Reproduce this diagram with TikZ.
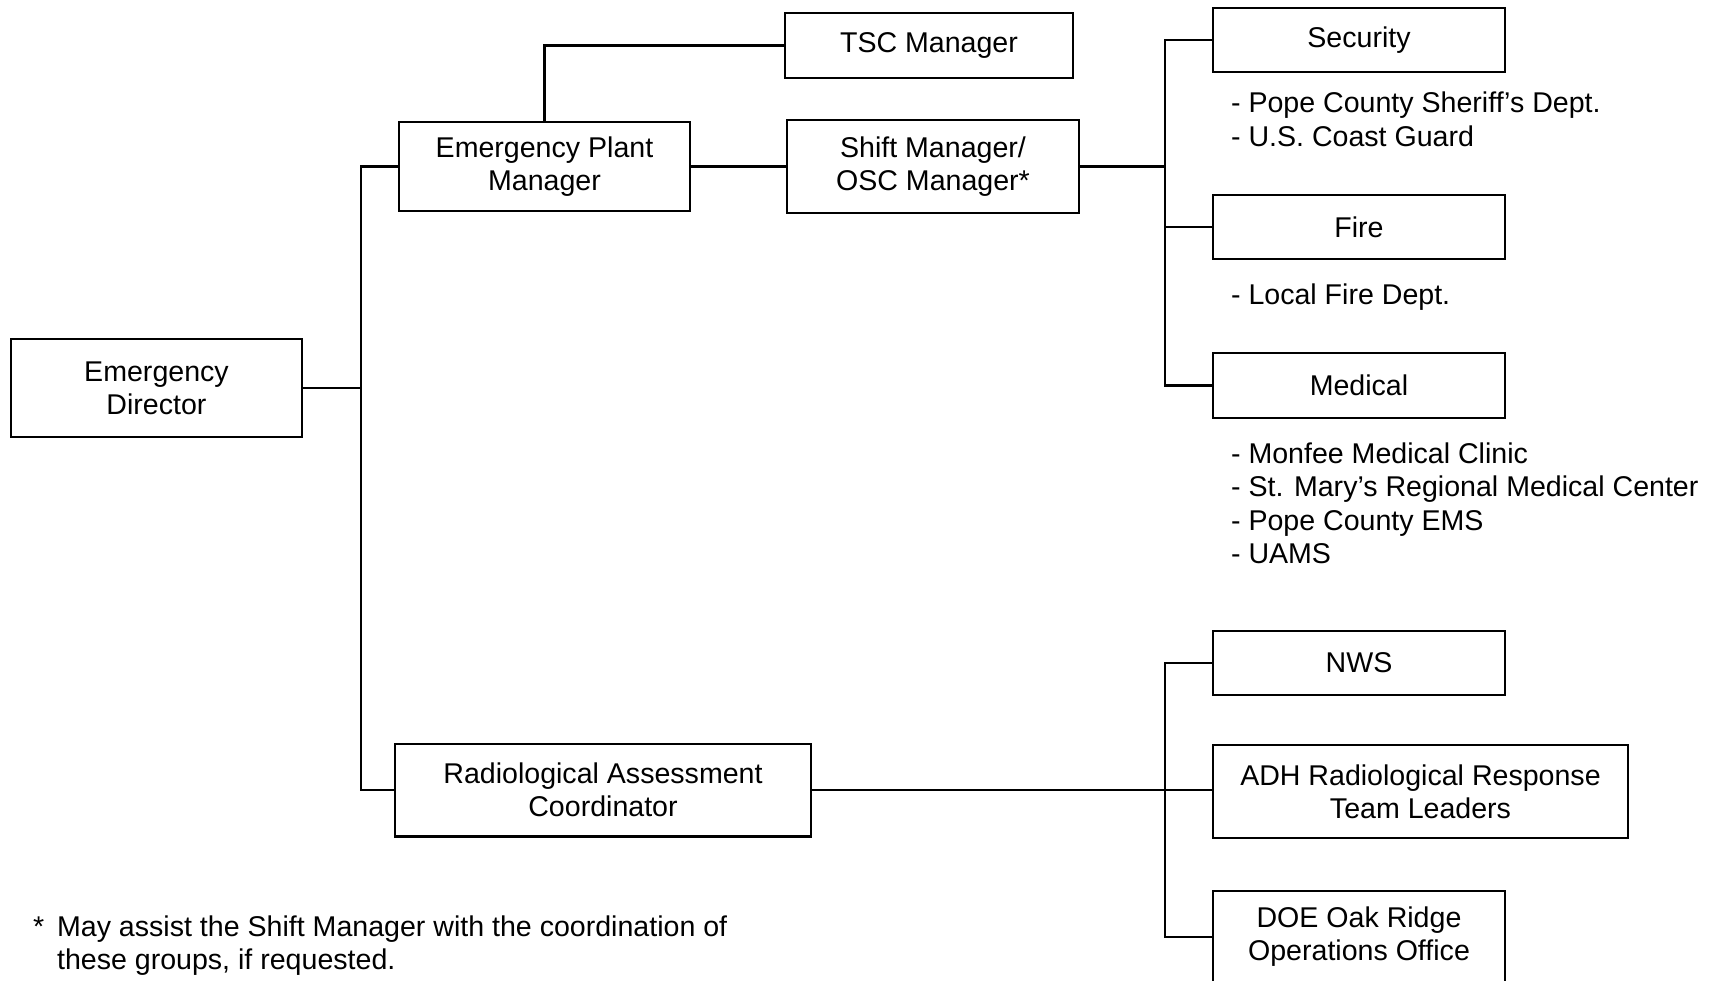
\documentclass[tikz,border=0pt]{standalone}
\usepackage{fontspec}
\setmainfont{Liberation Sans}
\usetikzlibrary{positioning,calc}

\begin{document}
\begin{tikzpicture}[x=0.42pt,y=-0.42pt,line width=0.9pt,
   font=\fontsize{12}{13.9}\selectfont,
   org/.style={draw=black,line width=0.9pt,align=center,inner sep=0pt,minimum width=122.4pt,minimum height=27pt},
   orgtwo/.style={org,minimum height=39pt},
   orgwide/.style={orgtwo,minimum width=174.5pt},
   item/.style={anchor=base west,inner sep=0pt}]
   \useasboundingbox (0,0) rectangle (1714,981);
   \path (156.5,388)   node (ed)    [orgtwo,minimum height=41pt] {Emergency\\Director}
         (544.5,166.5) node (epm)   [orgtwo,minimum height=37.4pt] {Emergency Plant\\Manager}
         (929,45.5)    node (tsc)   [org,minimum width=121pt] {TSC Manager}
         (933,166.5)   node (shift) [orgtwo] {Shift Manager/\\OSC Manager*}
         (603,790)     node (rac)   [orgwide] {Radiological Assessment\\Coordinator}
         (1359,40)     node (sec)   [org] {Security}
         (1359,227)    node (fire)  [org] {Fire}
         (1359,385.5)  node (med)   [org] {Medical}
         (1359,663)    node (nws)   [org] {NWS}
         (1420.5,791.5) node (adh)  [orgwide] {ADH Radiological Response\\Team Leaders}
         (1359,937)    node (doe)   [orgtwo] {DOE Oak Ridge\\Operations Office};
   \coordinate (tl) at (361,0);
   \coordinate (bus) at (1165,0);
   \draw (epm.west) -- (epm.west -| tl) -- (rac.west -| tl) -- (rac.west);
   \draw (ed.east) -- (ed.east -| tl);
   \draw (epm.north) |- (tsc.west);
   \draw (epm.east) -- (shift.west);
   \draw (sec.west) -- (sec.west -| bus) -- (med.west -| bus) -- (med.west);
   \draw (fire.west) -- (fire.west -| bus);
   \draw (shift.east) -- (shift.east -| bus);
   \draw (nws.west) -- (nws.west -| bus) -- (doe.west -| bus) -- (doe.west);
   \draw (rac.east) -- (rac.east -| adh.west);
   \node (sec1) [item] at (1230,112) {- Pope County Sheriff’s Dept.};
   \node (sec2) [item] at (1230,146) {- U.S. Coast Guard};
   \node (fire1) [item] at (1230,304) {- Local Fire Dept.};
   \node (med1) [item] at (1230,463) {- Monfee Medical Clinic};
   \node (med2) [item] at (1230,496) {- St. Mary’s Regional Medical Center};
   \node (med3) [item] at (1230,530) {- Pope County EMS};
   \node (med4) [item] at (1230,563) {- UAMS};
   \node (star) [item] at (32,936) {*};
   \node (note1) [item] at (56,936) {May assist the Shift Manager with the coordination of};
   \node (note2) [item] at (56,969) {these groups, if requested.};
\end{tikzpicture}
\end{document}
